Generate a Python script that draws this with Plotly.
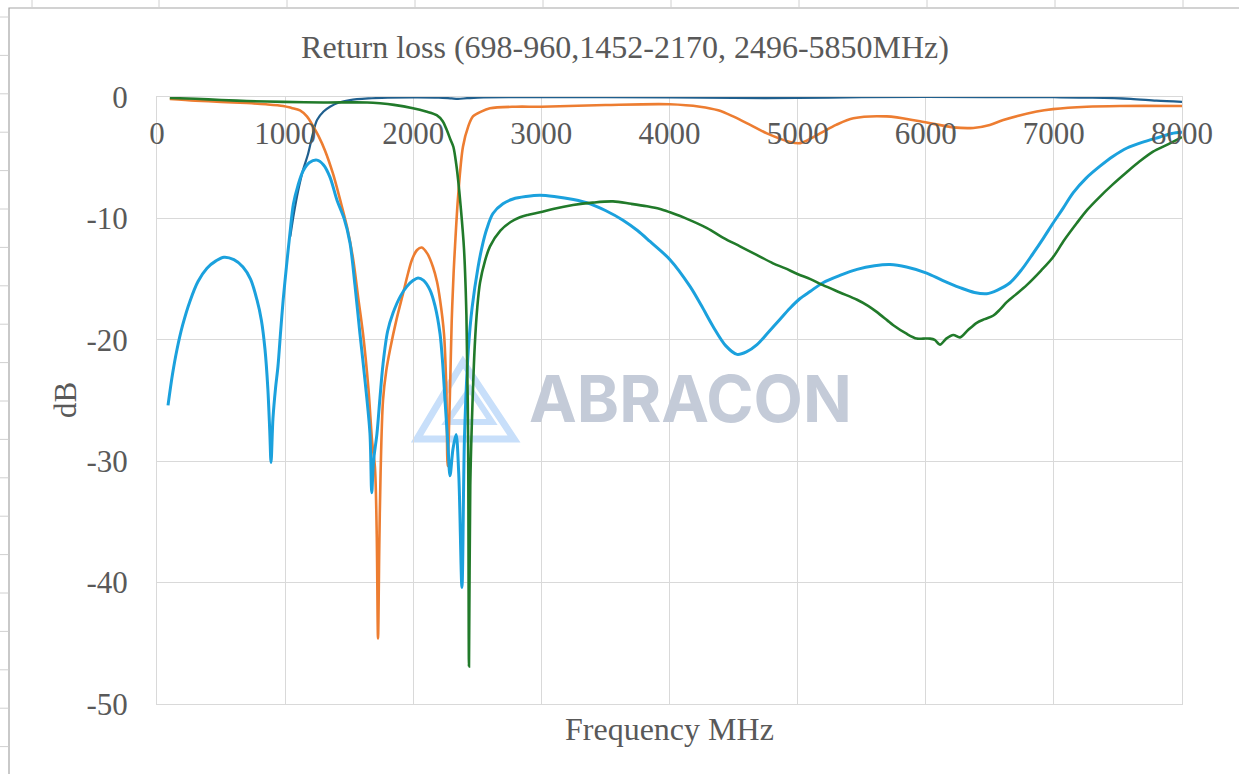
import plotly.graph_objects as go

# ---------------- data ----------------
x_ticks = [0, 1000, 2000, 3000, 4000, 5000, 6000, 7000, 8000]
y_ticks = [0, -10, -20, -30, -40, -50]

navy_f = [1040, 1070, 1100, 1140, 1179, 1215, 1249, 1300, 1350, 1420, 1506, 1650, 1800, 2000,
          2200, 2300, 2350, 2420, 2550, 3000, 4000, 4500, 5000, 5500, 6000, 7000, 7300, 7600, 7800, 8000]
navy_db = [-11.5, -9.5, -7.8, -6.0, -4.7, -3.1, -1.9, -1.2, -0.8, -0.45, -0.25, -0.12, -0.06, -0.03,
           -0.05, -0.12, -0.15, -0.1, -0.03, -0.02, -0.03, -0.08, -0.08, -0.02, 0.0, -0.02, -0.05, -0.15, -0.3, -0.4]

orange_f = [100, 300, 500, 700, 850, 985, 1050, 1116, 1170, 1218, 1260, 1311, 1373, 1430, 1483, 1530,
            1570, 1608, 1650, 1680, 1701, 1715, 1725, 1735, 1745, 1764, 1790, 1819, 1870, 1920, 1960,
            1990, 2030, 2066, 2110, 2154, 2185, 2209, 2240, 2258, 2268, 2285, 2300, 2315, 2326, 2350, 2388,
            2430, 2466, 2530, 2599, 2800, 3000, 3500, 4000, 4238, 4380, 4496, 4630, 4760, 4940, 5019,
            5175, 5300, 5435, 5695, 5955, 6215, 6371, 6500, 6605, 6866, 6993, 7256, 7516, 8000]
orange_db = [-0.16, -0.3, -0.4, -0.5, -0.6, -0.74, -0.9, -1.1, -1.6, -2.4, -3.2, -4.4, -6.3, -8.5, -10.7, -13.3,
             -16.5, -19.5, -24.0, -28.5, -30.5, -36.0, -44.6, -37.0, -31.0, -25.0, -22.5, -20.8, -18.3, -16.2, -14.5,
             -13.4, -12.6, -12.4, -12.9, -14.0, -15.2, -16.7, -19.5, -24.0, -30.4, -25.0, -18.5, -14.5, -12.3, -8.2, -4.1,
             -2.4, -1.6, -1.2, -0.93, -0.8, -0.8, -0.66, -0.6, -0.8, -1.1, -1.6, -2.3, -3.0, -3.7, -3.8,
             -3.0, -2.3, -1.75, -1.6, -2.0, -2.5, -2.55, -2.3, -1.9, -1.2, -1.0, -0.8, -0.74, -0.74]

sky_f = [86, 120, 156, 200, 258, 320, 390, 460, 523, 600, 671, 730, 780, 815, 843, 865, 880, 890, 905,
         925, 944, 965, 985, 1010, 1038, 1065, 1100, 1140, 1190, 1249, 1300, 1350, 1405, 1460, 1506, 1545,
         1584, 1625, 1662, 1676, 1690, 1717, 1740, 1764, 1800, 1842, 1900, 1951, 2000, 2037, 2080, 2131,
         2170, 2209, 2230, 2248, 2270, 2287, 2310, 2334, 2355, 2380, 2400, 2430, 2460, 2506, 2540, 2573,
         2622, 2700, 2779, 2880, 2989, 3100, 3250, 3380, 3500, 3637, 3750, 3848, 4004, 4160, 4250, 4340,
         4440, 4527, 4600, 4683, 4770, 4863, 4940, 5019, 5100, 5198, 5330, 5464, 5600, 5721, 5850, 6007,
         6130, 6267, 6380, 6476, 6560, 6658, 6750, 6837, 6920, 6993, 7070, 7150, 7250, 7360, 7460, 7571,
         7700, 7828, 7920, 8000]
sky_db = [-25.4, -22.9, -20.8, -18.8, -16.8, -15.2, -14.1, -13.5, -13.2, -13.4, -14.0, -15.0, -16.7, -18.4,
          -20.8, -24.0, -27.5, -30.1, -26.5, -24.0, -22.2, -19.3, -16.7, -14.0, -11.2, -8.8, -7.3, -6.1, -5.4,
          -5.2, -5.6, -6.6, -8.5, -10.0, -12.0, -15.5, -19.5, -23.5, -27.7, -32.6, -30.0, -27.7, -24.8, -22.0,
          -19.3, -17.8, -16.4, -15.6, -15.1, -14.9, -15.1, -15.9, -17.2, -19.5, -22.0, -25.0, -28.5, -31.2,
          -29.0, -27.8, -31.0, -40.4, -28.0, -20.8, -17.3, -14.0, -12.2, -10.9, -9.6, -8.8, -8.4, -8.2, -8.1,
          -8.2, -8.45, -8.8, -9.35, -10.15, -11.0, -11.9, -13.4, -15.6, -17.2, -18.9, -20.5, -21.2, -21.0, -20.4,
          -19.4, -18.3, -17.4, -16.6, -16.0, -15.3, -14.7, -14.2, -13.9, -13.8, -14.0, -14.5, -15.1, -15.7,
          -16.1, -16.2, -15.9, -15.3, -14.2, -12.9, -11.6, -10.4, -9.2, -7.9, -6.7, -5.7, -4.9, -4.2, -3.7,
          -3.3, -3.0, -2.9]

green_f = [100, 300, 500, 700, 985, 1300, 1640, 1740, 1850, 1998, 2100, 2183, 2230, 2261, 2290, 2313,
           2335, 2350, 2370, 2396, 2415, 2428, 2435, 2445, 2460, 2480, 2500, 2521, 2560, 2599, 2680, 2760, 2833,
           2900, 2989, 3100, 3247, 3400, 3559, 3700, 3824, 3920, 4004, 4150, 4293, 4420, 4550, 4680, 4808,
           4900, 5003, 5100, 5198, 5330, 5464, 5550, 5617, 5700, 5747, 5850, 5929, 5980, 6033, 6070, 6111,
           6160, 6215, 6267, 6330, 6398, 6460, 6528, 6580, 6632, 6700, 6788, 6900, 6993, 7080, 7178, 7260,
           7360, 7460, 7568, 7670, 7774, 7890, 8000]
green_db = [-0.08, -0.15, -0.25, -0.33, -0.4, -0.45, -0.45, -0.52, -0.65, -0.93, -1.2, -1.5, -2.0, -2.7, -3.5,
            -4.1, -5.5, -6.8, -9.0, -12.5, -18.0, -28.0, -46.9, -32.0, -26.0, -20.5, -17.3, -15.3, -13.5, -12.3,
            -11.0, -10.3, -9.9, -9.7, -9.5, -9.2, -8.9, -8.7, -8.6, -8.8, -9.0, -9.2, -9.5, -10.1, -10.8, -11.6,
            -12.3, -13.0, -13.7, -14.1, -14.6, -15.0, -15.5, -16.1, -16.7, -17.2, -17.7, -18.4, -18.8, -19.5,
            -19.9, -19.9, -19.9, -20.0, -20.4, -19.9, -19.6, -19.8, -19.2, -18.6, -18.3, -18.0, -17.5, -16.9,
            -16.3, -15.5, -14.3, -13.2, -11.8, -10.4, -9.3, -8.2, -7.2, -6.2, -5.3, -4.5, -3.9, -3.3]

# ---------------- figure ----------------
W, H = 1239, 774
L, R, T, B = 157, 1182, 97, 704
TXT = "#595959"
GRID = "#D9D9D9"
SERIF = "Liberation Serif, Times New Roman, serif"


def px(p):
    return (p - L) / (R - L)


def py(p):
    return (B - p) / (B - T)


fig = go.Figure()
series = [
    (navy_f, navy_db, "#1F5F8E", 2.2),
    (orange_f, orange_db, "#ED7D31", 2.6),
    (sky_f, sky_db, "#1BA1DD", 3.0),
    (green_f, green_db, "#217A2A", 2.6),
]
for f, d, c, w in series:
    fig.add_trace(go.Scatter(x=f, y=d, mode="lines", showlegend=False,
                             line=dict(color=c, width=w, shape="spline", smoothing=0.9),
                             hoverinfo="skip"))

shapes = []
# chart area border
shapes.append(dict(type="rect", xref="paper", yref="paper", x0=px(9), x1=px(1260), y0=py(800), y1=py(8),
                   line=dict(color="#A6A6A6", width=1.2), layer="below"))
# spreadsheet cell grid peeking outside the chart
for gx in [32, 159, 287, 415, 543, 671, 799, 927, 1055, 1183]:
    shapes.append(dict(type="line", xref="paper", yref="paper", x0=px(gx), x1=px(gx), y0=py(0), y1=py(7.5),
                       line=dict(color="#D0D0D0", width=1), layer="below"))
gy = 17
while gy < H:
    shapes.append(dict(type="line", xref="paper", yref="paper", x0=px(0), x1=px(8.5), y0=py(gy), y1=py(gy),
                       line=dict(color="#D0D0D0", width=1), layer="below"))
    gy += 38.4

# watermark logo (triangles)
logo_c = "#C8DFFA"
shapes.append(dict(type="path", xref="paper", yref="paper",
                   path="M {} {} L {} {} L {} {} Z".format(px(417), py(439), px(514), py(439), px(463), py(362)),
                   line=dict(color=logo_c, width=7), layer="between"))
shapes.append(dict(type="path", xref="paper", yref="paper",
                   path="M {} {} L {} {} L {} {} Z".format(px(447), py(422), px(492), py(422), px(470), py(389)),
                   line=dict(color=logo_c, width=6), layer="between"))

annotations = [
    dict(text="ABRACON", xref="paper", yref="paper", x=px(690), y=py(398), xanchor="center", yanchor="middle",
         showarrow=False, font=dict(family="Inter, Roboto, sans-serif", size=64, color="#C4CBD8", weight="bold")),
    dict(text="dB", xref="paper", yref="paper", x=px(65), y=py(400), xanchor="center", yanchor="middle",
         textangle=-90, showarrow=False, font=dict(family=SERIF, size=31, color=TXT)),
    dict(text="Frequency MHz", xref="paper", yref="paper", x=px(669), y=py(729), xanchor="center",
         yanchor="middle", showarrow=False, font=dict(family=SERIF, size=32, color=TXT)),
]

fig.update_layout(
    width=W, height=H,
    margin=dict(l=L, r=W - R, t=T, b=H - B, pad=0),
    paper_bgcolor="white", plot_bgcolor="white",
    title=dict(text="Return loss (698-960,1452-2170, 2496-5850MHz)", xref="container", yref="container",
               x=625 / W, y=1 - 47 / H, xanchor="center", yanchor="middle",
               font=dict(family=SERIF, size=32, color=TXT)),
    shapes=shapes,
    annotations=annotations,
    xaxis=dict(range=[0, 8000], tickvals=x_ticks, ticktext=[str(v) for v in x_ticks],
               side="top", ticklabelposition="inside", ticklabelstandoff=29, ticklabeloverflow="allow",
               showgrid=True, gridcolor=GRID, gridwidth=1, zeroline=False,
               showline=True, mirror=True, linecolor=GRID, linewidth=1, ticks="",
               tickfont=dict(family=SERIF, size=31, color=TXT)),
    yaxis=dict(range=[-50, 0], tickvals=y_ticks, ticktext=[str(v) for v in y_ticks],
               showgrid=True, gridcolor=GRID, gridwidth=1, zeroline=False,
               showline=True, mirror=True, linecolor=GRID, linewidth=1, ticks="",
               ticklabelstandoff=22, tickfont=dict(family=SERIF, size=31, color=TXT)),
)

fig.write_html("out.html", config={"displayModeBar": False},
               post_script="document.body.style.margin='0px';")
